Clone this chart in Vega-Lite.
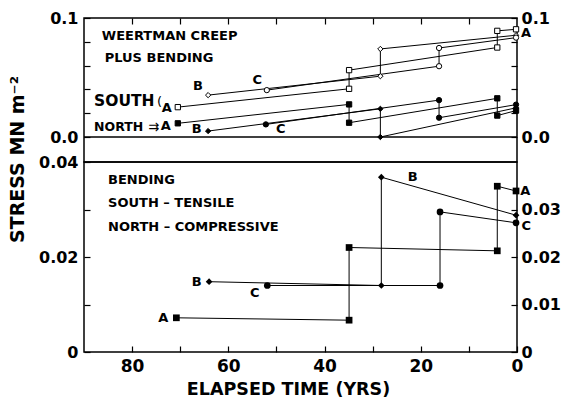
{
  "$schema": "https://vega.github.io/schema/vega-lite/v6.json",
  "background": "white",
  "padding": {"left": 7, "top": 9, "right": 0, "bottom": 0},
  "spacing": 0,
  "bounds": "flush",
  "config": {
    "view": {"stroke": "black", "strokeWidth": 1.5},
    "font": "DejaVu Sans",
    "axis": {"labelFont": "DejaVu Sans", "labelFontWeight": "bold", "labelFontSize": 16, "labelColor": "black", "tickColor": "black", "tickWidth": 1.2, "domain": false, "grid": false, "labelOverlap": false, "labelFlush": false, "titleFont": "DejaVu Sans", "titleFontWeight": "bold", "titleColor": "black"},
    "text": {"font": "DejaVu Sans", "fontWeight": "bold", "color": "black"}
  },
  "datasets": {
    "top": [
      {"side": "South", "series": "A", "order": 1, "year": 70.5, "value": 0.0251},
      {"side": "South", "series": "A", "order": 2, "year": 34.9, "value": 0.0405},
      {"side": "South", "series": "A", "order": 3, "year": 34.9, "value": 0.0562},
      {"side": "South", "series": "A", "order": 4, "year": 4.1, "value": 0.0752},
      {"side": "South", "series": "A", "order": 5, "year": 4.1, "value": 0.0892},
      {"side": "South", "series": "A", "order": 6, "year": 0.2, "value": 0.0905},
      {"side": "South", "series": "B", "order": 1, "year": 64.2, "value": 0.0352},
      {"side": "South", "series": "B", "order": 2, "year": 28.4, "value": 0.0511},
      {"side": "South", "series": "B", "order": 3, "year": 28.4, "value": 0.074},
      {"side": "South", "series": "B", "order": 4, "year": 0.2, "value": 0.0855},
      {"side": "South", "series": "C", "order": 1, "year": 52.0, "value": 0.0394},
      {"side": "South", "series": "C", "order": 2, "year": 16.2, "value": 0.0595},
      {"side": "South", "series": "C", "order": 3, "year": 16.2, "value": 0.0748},
      {"side": "South", "series": "C", "order": 4, "year": 0.2, "value": 0.0835},
      {"side": "North", "series": "A", "order": 1, "year": 70.5, "value": 0.0115},
      {"side": "North", "series": "A", "order": 2, "year": 34.9, "value": 0.0274},
      {"side": "North", "series": "A", "order": 3, "year": 34.9, "value": 0.012},
      {"side": "North", "series": "A", "order": 4, "year": 4.1, "value": 0.0325},
      {"side": "North", "series": "A", "order": 5, "year": 4.1, "value": 0.018},
      {"side": "North", "series": "A", "order": 6, "year": 0.2, "value": 0.0222},
      {"side": "North", "series": "B", "order": 1, "year": 64.2, "value": 0.005},
      {"side": "North", "series": "B", "order": 2, "year": 28.4, "value": 0.0237},
      {"side": "North", "series": "B", "order": 3, "year": 28.4, "value": 0.0},
      {"side": "North", "series": "B", "order": 4, "year": 0.2, "value": 0.0245},
      {"side": "North", "series": "C", "order": 1, "year": 52.2, "value": 0.0106},
      {"side": "North", "series": "C", "order": 2, "year": 16.2, "value": 0.031},
      {"side": "North", "series": "C", "order": 3, "year": 16.2, "value": 0.0162},
      {"side": "North", "series": "C", "order": 4, "year": 0.2, "value": 0.0272}
    ],
    "bottom": [
      {"series": "A", "order": 1, "year": 70.8, "value": 0.0072},
      {"series": "A", "order": 2, "year": 34.9, "value": 0.0067},
      {"series": "A", "order": 3, "year": 34.9, "value": 0.022},
      {"series": "A", "order": 4, "year": 4.1, "value": 0.0213},
      {"series": "A", "order": 5, "year": 4.1, "value": 0.0349},
      {"series": "A", "order": 6, "year": 0.2, "value": 0.0339},
      {"series": "B", "order": 1, "year": 64.0, "value": 0.0148},
      {"series": "B", "order": 2, "year": 28.2, "value": 0.014},
      {"series": "B", "order": 3, "year": 28.2, "value": 0.0368},
      {"series": "B", "order": 4, "year": 0.2, "value": 0.0288},
      {"series": "C", "order": 1, "year": 51.9, "value": 0.014},
      {"series": "C", "order": 2, "year": 16.0, "value": 0.014},
      {"series": "C", "order": 3, "year": 16.0, "value": 0.0295},
      {"series": "C", "order": 4, "year": 0.2, "value": 0.0272}
    ]
  },
  "vconcat": [
    {
      "width": 433,
      "height": 144,
      "layer": [
        {
          "data": {"values": [{"value": 0}]},
          "mark": {"type": "rule", "color": "black", "strokeWidth": 1.5},
          "encoding": {
            "y": {"field": "value", "type": "quantitative", "scale": {"domain": [-0.021, 0.1], "nice": false}, "axis": {"orient": "left", "values": [0, 0.02, 0.04, 0.06, 0.08, 0.1], "format": ".1f", "labelExpr": "datum.value == 0 || datum.value == 0.1 ? datum.label : ''", "tickSize": -6, "labelPadding": 12, "title": null}}
          }
        },
        {
          "data": {"name": "top"},
          "mark": {"type": "line", "color": "black", "strokeWidth": 1},
          "encoding": {
            "x": {"field": "year", "type": "quantitative", "scale": {"domain": [90, 0], "nice": false, "zero": false}, "axis": {"orient": "top", "values": [10, 20, 30, 40, 50, 60, 70, 80], "labels": false, "tickSize": -6, "title": null}},
            "y": {"field": "value", "type": "quantitative", "scale": {"domain": [-0.021, 0.1], "nice": false}, "axis": {"orient": "right", "values": [0, 0.02, 0.04, 0.06, 0.08, 0.1], "format": ".1f", "labelExpr": "datum.value == 0 || datum.value == 0.1 ? datum.label : ''", "tickSize": -6, "labelPadding": 10, "title": null}},
            "detail": [{"field": "side"}, {"field": "series"}],
            "order": {"field": "order", "type": "quantitative"}
          }
        },
        {
          "data": {"name": "top"},
          "mark": {"type": "point", "stroke": "black", "strokeWidth": 1, "opacity": 1, "size": 28},
          "encoding": {
            "x": {"field": "year", "type": "quantitative", "scale": {"domain": [90, 0], "nice": false, "zero": false}, "axis": null},
            "y": {"field": "value", "type": "quantitative", "scale": {"domain": [-0.021, 0.1], "nice": false}, "axis": null},
            "shape": {"field": "series", "type": "nominal", "scale": {"domain": ["A", "B", "C"], "range": ["square", "diamond", "circle"]}, "legend": null},
            "fill": {"field": "side", "type": "nominal", "scale": {"domain": ["North", "South"], "range": ["black", "white"]}, "legend": null}
          }
        },
        {
          "data": {"values": [{"text": "WEERTMAN CREEP", "year": 86.3, "value": 0.0849}, {"text": "PLUS BENDING", "year": 85.7, "value": 0.0664}]},
          "mark": {"type": "text", "align": "left", "baseline": "middle", "fontSize": 13},
          "encoding": {
            "x": {"field": "year", "type": "quantitative", "scale": {"domain": [90, 0], "nice": false, "zero": false}, "axis": null},
            "y": {"field": "value", "type": "quantitative", "scale": {"domain": [-0.021, 0.1], "nice": false}, "axis": null},
            "text": {"field": "text"}
          }
        },
        {
          "data": {"values": [{"text": "SOUTH", "year": 87.9, "value": 0.0303}]},
          "mark": {"type": "text", "align": "left", "baseline": "middle", "fontSize": 15.5},
          "encoding": {
            "x": {"field": "year", "type": "quantitative", "scale": {"domain": [90, 0], "nice": false, "zero": false}, "axis": null},
            "y": {"field": "value", "type": "quantitative", "scale": {"domain": [-0.021, 0.1], "nice": false}, "axis": null},
            "text": {"field": "text"}
          }
        },
        {
          "data": {"values": [{"text": "NORTH", "year": 87.9, "value": 0.0084}]},
          "mark": {"type": "text", "align": "left", "baseline": "middle", "fontSize": 12.5},
          "encoding": {
            "x": {"field": "year", "type": "quantitative", "scale": {"domain": [90, 0], "nice": false, "zero": false}, "axis": null},
            "y": {"field": "value", "type": "quantitative", "scale": {"domain": [-0.021, 0.1], "nice": false}, "axis": null},
            "text": {"field": "text"}
          }
        },
        {
          "data": {"values": [{"text": "(", "year": 74.3, "value": 0.0293}, {"text": "⇉", "year": 75.5, "value": 0.0084}]},
          "mark": {"type": "text", "align": "center", "baseline": "middle", "fontSize": 13, "fontWeight": "normal"},
          "encoding": {
            "x": {"field": "year", "type": "quantitative", "scale": {"domain": [90, 0], "nice": false, "zero": false}, "axis": null},
            "y": {"field": "value", "type": "quantitative", "scale": {"domain": [-0.021, 0.1], "nice": false}, "axis": null},
            "text": {"field": "text"}
          }
        },
        {
          "data": {"values": [
            {"text": "A", "year": 72.8, "value": 0.0244},
            {"text": "A", "year": 73.0, "value": 0.0092},
            {"text": "B", "year": 66.3, "value": 0.0429},
            {"text": "C", "year": 54.0, "value": 0.0479},
            {"text": "B", "year": 66.6, "value": 0.0065},
            {"text": "C", "year": 49.1, "value": 0.0065},
            {"text": "A", "year": -1.9, "value": 0.087}
          ]},
          "mark": {"type": "text", "align": "center", "baseline": "middle", "fontSize": 13},
          "encoding": {
            "x": {"field": "year", "type": "quantitative", "scale": {"domain": [90, 0], "nice": false, "zero": false}, "axis": null},
            "y": {"field": "value", "type": "quantitative", "scale": {"domain": [-0.021, 0.1], "nice": false}, "axis": null},
            "text": {"field": "text"}
          }
        }
      ],
      "resolve": {"axis": {"x": "independent", "y": "independent"}}
    },
    {
      "width": 433,
      "height": 190,
      "layer": [
        {
          "data": {"name": "bottom"},
          "mark": {"type": "line", "color": "black", "strokeWidth": 1},
          "encoding": {
            "x": {"field": "year", "type": "quantitative", "scale": {"domain": [90, 0], "nice": false, "zero": false}, "axis": {"orient": "bottom", "values": [0, 10, 20, 30, 40, 50, 60, 70, 80], "labelExpr": "datum.value % 20 == 0 ? datum.label : ''", "labelFontSize": 17, "tickSize": -6, "labelPadding": 12, "title": "ELAPSED TIME (YRS)", "titleFontSize": 17.5, "titleX": 204, "titleY": 37, "titleAlign": "center", "titleBaseline": "middle"}},
            "y": {"field": "value", "type": "quantitative", "scale": {"domain": [0, 0.04], "nice": false}, "axis": {"orient": "left", "values": [0, 0.01, 0.02, 0.03, 0.04], "format": ".2f", "labelExpr": "datum.value == 0 ? '0' : (datum.label == '0.02' || datum.label == '0.04') ? datum.label : ''", "tickSize": -6, "labelPadding": 12, "title": "STRESS  MN m⁻²", "titleFontSize": 19, "titleX": -67, "titleY": -3, "titleAngle": 270, "titleAlign": "center", "titleBaseline": "middle"}},
            "detail": {"field": "series"},
            "order": {"field": "order", "type": "quantitative"}
          }
        },
        {
          "data": {"name": "bottom"},
          "mark": {"type": "point", "filled": true, "color": "black", "opacity": 1, "size": 45},
          "encoding": {
            "x": {"field": "year", "type": "quantitative", "scale": {"domain": [90, 0], "nice": false, "zero": false}, "axis": null},
            "y": {"field": "value", "type": "quantitative", "scale": {"domain": [0, 0.04], "nice": false}, "axis": {"orient": "right", "values": [0, 0.01, 0.02, 0.03], "format": ".2f", "labelExpr": "datum.value == 0 ? '0' : datum.label", "tickSize": -6, "labelPadding": 10, "title": null}},
            "shape": {"field": "series", "type": "nominal", "scale": {"domain": ["A", "B", "C"], "range": ["square", "diamond", "circle"]}, "legend": null}
          }
        },
        {
          "data": {"values": [{"text": "BENDING", "year": 85.0, "value": 0.0362}, {"text": "SOUTH – TENSILE", "year": 85.0, "value": 0.0314}, {"text": "NORTH – COMPRESSIVE", "year": 85.0, "value": 0.0263}]},
          "mark": {"type": "text", "align": "left", "baseline": "middle", "fontSize": 13},
          "encoding": {
            "x": {"field": "year", "type": "quantitative", "scale": {"domain": [90, 0], "nice": false, "zero": false}, "axis": null},
            "y": {"field": "value", "type": "quantitative", "scale": {"domain": [0, 0.04], "nice": false}, "axis": null},
            "text": {"field": "text"}
          }
        },
        {
          "data": {"values": [
            {"text": "B", "year": 66.6, "value": 0.0148},
            {"text": "C", "year": 54.5, "value": 0.0125},
            {"text": "A", "year": 73.5, "value": 0.0071},
            {"text": "B", "year": 21.7, "value": 0.0368},
            {"text": "A", "year": -1.7, "value": 0.034},
            {"text": "C", "year": -1.9, "value": 0.0265}
          ]},
          "mark": {"type": "text", "align": "center", "baseline": "middle", "fontSize": 13},
          "encoding": {
            "x": {"field": "year", "type": "quantitative", "scale": {"domain": [90, 0], "nice": false, "zero": false}, "axis": null},
            "y": {"field": "value", "type": "quantitative", "scale": {"domain": [0, 0.04], "nice": false}, "axis": null},
            "text": {"field": "text"}
          }
        }
      ],
      "resolve": {"axis": {"x": "independent", "y": "independent"}}
    }
  ]
}
